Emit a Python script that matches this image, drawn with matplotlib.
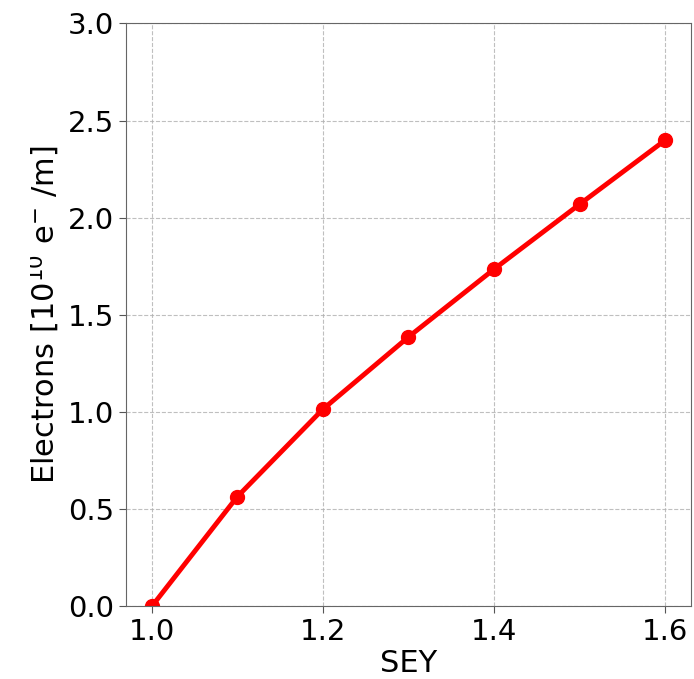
import numpy as np
import matplotlib
matplotlib.use('Agg')
import matplotlib.pyplot as plt
from matplotlib.transforms import Bbox

# secondary emission yield vs electron line density
sey = [1.0, 1.1, 1.2, 1.3, 1.4, 1.5, 1.6]
electrons = [0.0, 0.565, 1.015, 1.387, 1.736, 2.070, 2.400]

fig = plt.figure(figsize=(6.94, 6.79), dpi=100)
ax = fig.add_axes([0.1816, 0.1068, 0.814, 0.8586])

ax.plot(sey, electrons, color='red', lw=3.5, marker='o', ms=10)

ax.set_ylim(0, 3.0)
ax.set_xticks([1.0, 1.2, 1.4, 1.6])
ax.set_yticks(np.arange(0, 3.01, 0.5))
ax.grid(True, ls='--', color='#b0b0b0', lw=0.8, alpha=0.8)

ax.tick_params(labelsize=21, color='#555555', length=5)
for s in ax.spines.values():
    s.set_color('#666666')

ax.set_xlabel('SEY', fontsize=22, labelpad=2)
ylab = ax.set_ylabel(r'Electrons [$10^{10}$ e$^{-}$ /m]', fontsize=22)
# figure was trimmed on the left, cutting the top of the exponent
ylab.set_clip_box(Bbox([[30, 0], [694, 679]]))
ylab.set_clip_on(True)

fig.savefig('out.png', dpi=100)
